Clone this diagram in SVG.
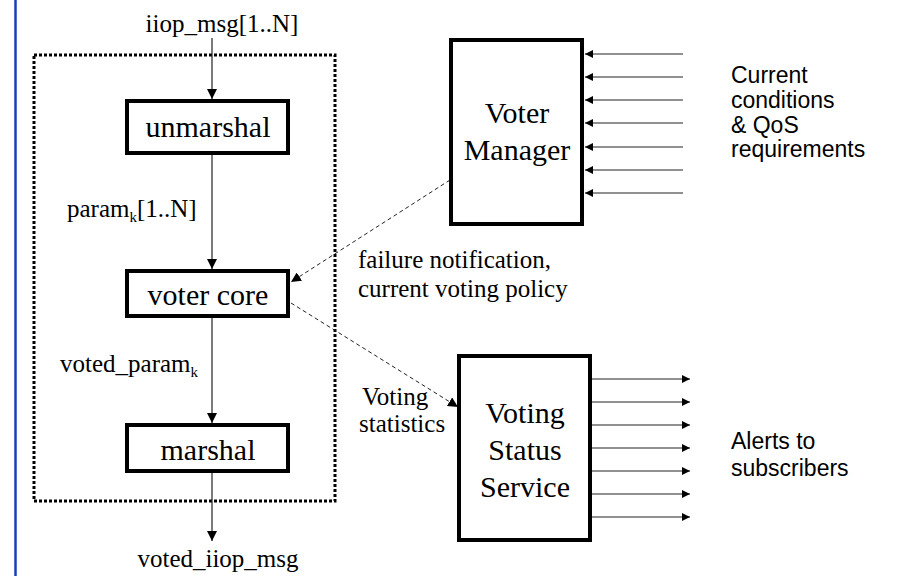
<svg xmlns="http://www.w3.org/2000/svg" width="899" height="576" viewBox="0 0 899 576">
<style>
.box{fill:#fff;stroke:#000;stroke-width:4}
.t{font-family:"Liberation Serif","Times New Roman",serif;fill:#000}
.big{font-size:30px}
.lab{font-size:25px}
.sans{font-family:"Liberation Sans",Arial,sans-serif;font-size:23px;fill:#000}
.ln{stroke:#222;stroke-width:1.2;fill:none}
.dash{stroke:#222;stroke-width:1;fill:none;stroke-dasharray:4 3}
</style>
<defs>
<marker id="ah" viewBox="0 0 10 10" refX="10" refY="5" markerWidth="8" markerHeight="8" markerUnits="userSpaceOnUse" orient="auto">
<path d="M0,0 L10,5 L0,10 z" fill="#000"/>
</marker>
<marker id="ah2" viewBox="0 0 10 10" refX="10" refY="5" markerWidth="10" markerHeight="10" markerUnits="userSpaceOnUse" orient="auto">
<path d="M0,0 L10,5 L0,10 z" fill="#000"/>
</marker>
</defs>
<rect width="899" height="576" fill="#fff"/>
<line x1="15.5" y1="0" x2="15.5" y2="576" stroke="#1a3fb5" stroke-width="2.5"/>
<rect x="34" y="55" width="301" height="446" fill="none" stroke="#000" stroke-width="3" stroke-dasharray="3 2"/>

<g id="connectors">
<line class="ln" x1="212" y1="38" x2="212" y2="99" marker-end="url(#ah2)"/>
<line class="ln" x1="212" y1="155" x2="212" y2="269" marker-end="url(#ah2)"/>
<line class="ln" x1="212" y1="318" x2="212" y2="423" marker-end="url(#ah2)"/>
<line class="ln" x1="212" y1="473" x2="212" y2="541" marker-end="url(#ah2)"/>
<line class="dash" x1="450" y1="180" x2="291" y2="282" marker-end="url(#ah2)"/>
<line class="dash" x1="291" y1="303" x2="458" y2="407" marker-end="url(#ah2)"/>
<line class="ln" x1="683" y1="54" x2="585" y2="54" marker-end="url(#ah)"/>
<line class="ln" x1="683" y1="77" x2="585" y2="77" marker-end="url(#ah)"/>
<line class="ln" x1="683" y1="100" x2="585" y2="100" marker-end="url(#ah)"/>
<line class="ln" x1="683" y1="123" x2="585" y2="123" marker-end="url(#ah)"/>
<line class="ln" x1="683" y1="147" x2="585" y2="147" marker-end="url(#ah)"/>
<line class="ln" x1="683" y1="170" x2="585" y2="170" marker-end="url(#ah)"/>
<line class="ln" x1="683" y1="193" x2="585" y2="193" marker-end="url(#ah)"/>
<line class="ln" x1="592" y1="379" x2="690" y2="379" marker-end="url(#ah)"/>
<line class="ln" x1="592" y1="402" x2="690" y2="402" marker-end="url(#ah)"/>
<line class="ln" x1="592" y1="425" x2="690" y2="425" marker-end="url(#ah)"/>
<line class="ln" x1="592" y1="448" x2="690" y2="448" marker-end="url(#ah)"/>
<line class="ln" x1="592" y1="471" x2="690" y2="471" marker-end="url(#ah)"/>
<line class="ln" x1="592" y1="494" x2="690" y2="494" marker-end="url(#ah)"/>
<line class="ln" x1="592" y1="517" x2="690" y2="517" marker-end="url(#ah)"/>
</g>

<g id="labels">
<text class="t lab" x="222" y="32" text-anchor="middle">iiop_msg[1..N]</text>
<text class="t lab" x="67" y="217">param<tspan font-size="15" dy="5">k</tspan><tspan dy="-5">[1..N]</tspan></text>
<text class="t lab" x="60" y="372">voted_param<tspan font-size="15" dy="5">k</tspan></text>
<text class="t lab" x="218" y="567" text-anchor="middle">voted_iiop_msg</text>
<text class="t lab" x="358" y="268">failure notification,</text>
<text class="t lab" x="358" y="297">current voting policy</text>
<text class="t lab" x="362" y="405">Voting</text>
<text class="t lab" x="359" y="432">statistics</text>
<text class="sans" x="731" y="83">Current</text>
<text class="sans" x="731" y="108">conditions</text>
<text class="sans" x="731" y="133">&amp; QoS</text>
<text class="sans" x="731" y="157">requirements</text>
<text class="sans" x="731" y="449">Alerts to</text>
<text class="sans" x="731" y="476">subscribers</text>
</g>

<g id="unmarshal">
<rect class="box" x="127" y="101" width="161" height="52"/>
<text class="t big" x="208" y="137" text-anchor="middle">unmarshal</text>
</g>
<g id="voter-core">
<rect class="box" x="127" y="271" width="161" height="45"/>
<text class="t big" x="208" y="305" text-anchor="middle">voter core</text>
</g>
<g id="marshal">
<rect class="box" x="127" y="425" width="161" height="46"/>
<text class="t big" x="208" y="460" text-anchor="middle">marshal</text>
</g>
<g id="voter-manager">
<rect class="box" x="451" y="40" width="131" height="184"/>
<text class="t big" x="517" y="123" text-anchor="middle">Voter</text>
<text class="t big" x="517" y="160" text-anchor="middle">Manager</text>
</g>
<g id="voting-status-service">
<rect class="box" x="459" y="356" width="131" height="184"/>
<text class="t big" x="525" y="423" text-anchor="middle">Voting</text>
<text class="t big" x="525" y="460" text-anchor="middle">Status</text>
<text class="t big" x="525" y="497" text-anchor="middle">Service</text>
</g>
</svg>
